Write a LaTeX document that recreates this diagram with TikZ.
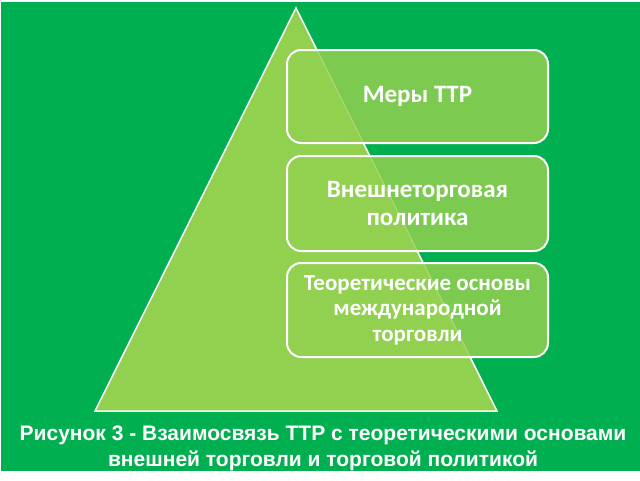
\documentclass[tikz,border=0pt]{standalone}
\usepackage{fontspec}
\setmainfont{Carlito}
\newfontfamily\capfont{Liberation Sans}
\definecolor{bggreen}{RGB}{0,176,80}
\definecolor{lightgreen}{RGB}{146,208,80}
\begin{document}
\begin{tikzpicture}[x=1pt,y=-1pt,
  tier/.style={draw=white, line width=2pt, rounded corners=14pt, fill=lightgreen, fill opacity=0.85},
  tiertext/.style={text=white, font=\bfseries\fontsize{25}{28}\selectfont, align=center},
  captext/.style={text=white, font=\capfont\bfseries\fontsize{21}{26}\selectfont, align=center}]
\useasboundingbox (0,0) rectangle (640,480);
\fill[white] (0,0) rectangle (640,480);
\fill[bggreen] (1,2) rectangle (640,471);
\filldraw[fill=lightgreen, draw=white, line width=1.5pt, line join=miter]
  (296,8) coordinate (apex) -- (497,411) coordinate (br) -- (95,411) coordinate (bl) -- cycle;
\path[tier] (287,50) rectangle (548,143);
\path[tier] (287,156) rectangle (548,251);
\path[tier] (287,263) rectangle (548,357);
\node[tiertext] (t1) at (417.5,96) {Меры ТТР};
\node[tiertext] (t2) at (417.5,203) {Внешнеторговая\\политика};
\node[tiertext, font=\bfseries\fontsize{23}{25.5}\selectfont] (t3) at (417.5,310) {Теоретические основы\\международной\\торговли};
\node[captext] (cap) at (323,448) {Рисунок 3 - Взаимосвязь ТТР с теоретическими основами\\внешней торговли и торговой политикой};
\end{tikzpicture}
\end{document}
